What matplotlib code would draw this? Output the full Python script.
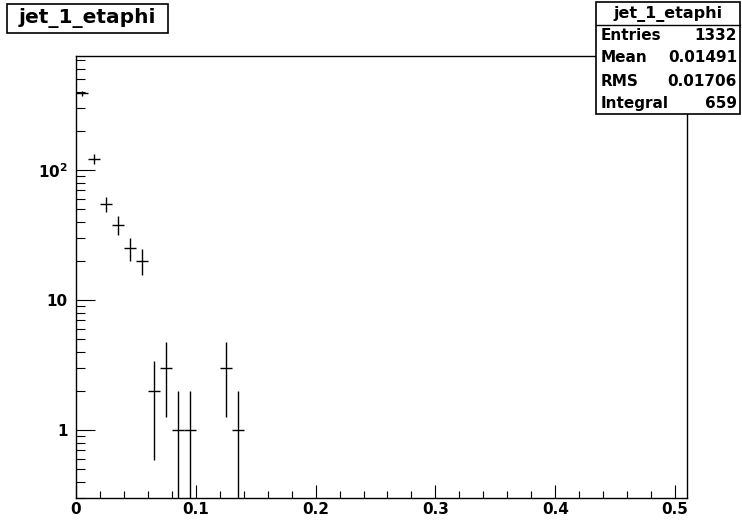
import numpy as np
import matplotlib
matplotlib.use('Agg')
import matplotlib.pyplot as plt
from matplotlib.patches import Rectangle
from matplotlib.ticker import MultipleLocator, FixedLocator, FixedFormatter, LogLocator, NullFormatter

plt.rcParams['font.family'] = ['DejaVu Sans']
plt.rcParams['font.weight'] = 'bold'
plt.rcParams['mathtext.fontset'] = 'custom'
plt.rcParams['mathtext.bf'] = 'DejaVu Sans:bold'
plt.rcParams['mathtext.rm'] = 'DejaVu Sans:bold'

# histogram bins (centres) and contents
bin_centers = [0.005, 0.015, 0.025, 0.035, 0.045, 0.055, 0.065, 0.075, 0.085, 0.095, 0.125, 0.135]
counts = [388, 122, 55, 38, 25, 20, 2, 3, 1, 1, 3, 1]
bin_width = 0.01

hist_name = "jet_1_etaphi"
stat_names = ["Entries", "Mean", "RMS", "Integral"]
stat_values = ["1332", "0.01491", "0.01706", "659"]

x = np.array(bin_centers)
y = np.array(counts, dtype=float)
err = np.sqrt(y)
lo = np.minimum(err, y - 1e-4)

fig = plt.figure(figsize=(7.42, 5.25), dpi=100)
ax = fig.add_axes([76 / 742, 27 / 525, 611 / 742, 442 / 525])

ax.errorbar(x, y, xerr=bin_width / 2, yerr=[lo, err], fmt='none', ecolor='black',
            elinewidth=1.0, capsize=0)

ax.set_yscale('log')
ax.set_xlim(0, 0.51)
ax.set_ylim(0.3, 753)

ax.xaxis.set_major_locator(MultipleLocator(0.1))
ax.xaxis.set_minor_locator(MultipleLocator(0.02))
ax.xaxis.set_major_formatter(plt.FuncFormatter(lambda v, p: "0" if abs(v) < 1e-9 else f"{v:.1f}"))

ax.yaxis.set_major_locator(FixedLocator([1, 10, 100]))
ax.yaxis.set_major_formatter(FixedFormatter(['1', '10', r'$\mathbf{10^{2}}$']))
ax.yaxis.set_minor_locator(LogLocator(base=10, subs=np.arange(2, 10)))
ax.yaxis.set_minor_formatter(NullFormatter())

ax.tick_params(axis='x', which='major', direction='in', length=9.5, width=0.8, labelsize=11, pad=3)
ax.tick_params(axis='x', which='minor', direction='in', length=5, width=0.8)
ax.tick_params(axis='y', which='major', direction='in', length=13.5, width=0.8, labelsize=11, pad=6)
ax.tick_params(axis='y', which='minor', direction='in', length=6.5, width=0.8)
ax.tick_params(top=False, right=False, which='both')
for lab in ax.get_xticklabels() + ax.get_yticklabels():
    lab.set_fontweight('bold')
for s in ax.spines.values():
    s.set_linewidth(1.0)


def fig_rect(x0, y0, x1, y1):
    r = Rectangle((x0 / 742, 1 - y1 / 525), (x1 - x0) / 742, (y1 - y0) / 525,
                  transform=fig.transFigure, facecolor='white',
                  edgecolor='black', linewidth=1.2, zorder=5)
    fig.add_artist(r)


# title box
fig_rect(7, 4, 168, 33)
fig.text(87.5 / 742, 1 - 18 / 525, hist_name, ha='center', va='center',
         fontsize=14.5, fontweight='bold', zorder=6)

# stats box
fig_rect(596, 2, 740, 114)
fig.add_artist(plt.Line2D([596 / 742, 740 / 742], [1 - 25 / 525, 1 - 25 / 525],
                          transform=fig.transFigure, color='black', linewidth=1.0, zorder=6))
fig.text(668 / 742, 1 - 13.5 / 525, hist_name, ha='center', va='center',
         fontsize=11.5, fontweight='bold', zorder=6)
row_y = [36, 58, 81, 103]
for name, val, ry in zip(stat_names, stat_values, row_y):
    fig.text(601 / 742, 1 - ry / 525, name, ha='left', va='center', fontsize=11,
             fontweight='bold', zorder=6)
    fig.text(737 / 742, 1 - ry / 525, val, ha='right', va='center', fontsize=11,
             fontweight='bold', zorder=6)

fig.savefig('out.png', dpi=100)
